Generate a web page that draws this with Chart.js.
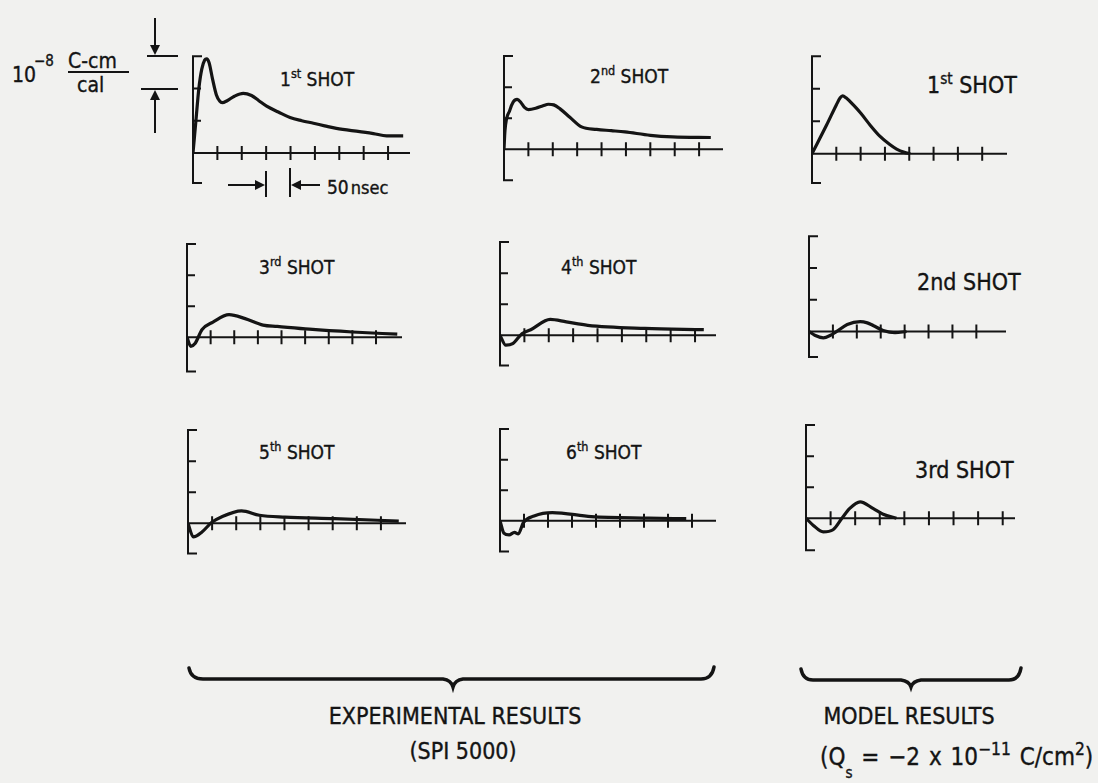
<!DOCTYPE html>
<html>
<head>
<meta charset="utf-8">
<script src="https://cdn.jsdelivr.net/npm/chart.js@4.4.0/dist/chart.umd.min.js"></script>
<style>
  body { margin: 0; width: 1098px; height: 783px; overflow: hidden; position: relative;
         background: #f1f1ef; color: #141414; font-family: "DejaVu Sans Condensed", "DejaVu Sans", sans-serif; }
  canvas.scope { position: absolute; }
  .lbl { position: absolute; white-space: nowrap; line-height: 1; -webkit-text-stroke: 0.35px #141414; }
  .exp { font-size: 19px; }
  .mod { font-size: 23px; }
  .foot { font-size: 23px; transform: translateX(-50%); }
  sup { font-size: 66%; vertical-align: baseline; position: relative; top: -0.6em; }
  svg { position: absolute; left: 0; top: 0; }
</style>
</head>
<body>

<svg width="1098" height="783">
  <g stroke="#141414" fill="none" stroke-width="2">
    <!-- unit marker -->
    <line x1="155" y1="18" x2="155" y2="48"/>
    <line x1="147" y1="56" x2="178" y2="56"/>
    <line x1="141" y1="89" x2="178" y2="89"/>
    <line x1="155" y1="98" x2="155" y2="133"/>
    <line x1="68" y1="72" x2="129" y2="72"/>
    <!-- 50 nsec marker -->
    <line x1="228" y1="185" x2="258" y2="185"/>
    <line x1="266" y1="171" x2="266" y2="197"/>
    <line x1="290" y1="168" x2="290" y2="197"/>
    <line x1="298" y1="185" x2="320" y2="185"/>
  </g>
  <g fill="#141414">
    <polygon points="150,45 160,45 155,55"/>
    <polygon points="150,100 160,100 155,90"/>
    <polygon points="255,180 255,190 265,185"/>
    <polygon points="301,180 301,190 291,185"/>
  </g>
  <!-- braces -->
  <g stroke="#141414" fill="none" stroke-width="3.5" stroke-linecap="round">
    <path d="M189,668 Q191,679 203,679 L443,679 Q451,680 453,687 Q455,680 463,679 L701,679 Q712,679 714,667"/>
    <path d="M801,669 Q803,680 813,680 L901,680 Q909,681 911,687 Q913,681 921,680 L1009,680 Q1019,680 1021,668"/>
  </g>
</svg>

<!-- unit label -->
<div class="lbl" style="left:12px;top:65px;font-size:21px">10</div>
<div class="lbl" style="left:34px;top:54px;font-size:15px">&minus;8</div>
<div class="lbl" style="left:68px;top:51px;font-size:21px">C-cm</div>
<div class="lbl" style="left:77px;top:75px;font-size:21px">cal</div>
<div class="lbl" style="left:327px;top:178px;font-size:19px">50<span style="font-size:18px;margin-left:2px">nsec</span></div>

<!-- shot labels -->
<div class="lbl exp" style="left:280px;top:70px">1<sup>st</sup> SHOT</div>
<div class="lbl exp" style="left:590px;top:67px">2<sup>nd</sup> SHOT</div>
<div class="lbl mod" style="left:927px;top:74px">1<sup>st</sup> SHOT</div>
<div class="lbl exp" style="left:259px;top:258px">3<sup>rd</sup> SHOT</div>
<div class="lbl exp" style="left:561px;top:258px">4<sup>th</sup> SHOT</div>
<div class="lbl mod" style="left:917px;top:271px">2nd SHOT</div>
<div class="lbl exp" style="left:259px;top:443px">5<sup>th</sup> SHOT</div>
<div class="lbl exp" style="left:566px;top:443px">6<sup>th</sup> SHOT</div>
<div class="lbl mod" style="left:915px;top:459px">3rd SHOT</div>

<!-- footer -->
<div class="lbl foot" style="left:455px;top:705px">EXPERIMENTAL RESULTS</div>
<div class="lbl foot" style="left:463px;top:740px">(SPI 5000)</div>
<div class="lbl foot" style="left:909px;top:705px">MODEL RESULTS</div>
<div class="lbl" style="left:820px;top:745px;font-size:24px;word-spacing:2px">(Q<span style="font-size:15px;position:relative;top:13px">s</span> = &minus;2 x 10<sup style="font-size:72%">&minus;11</sup> C/cm<sup style="font-size:72%">2</sup>)</div>

<script>
// time in nsec (one tick = 50 nsec), response in units of 1e-8 C-cm/cal
const expTicks = [50, 100, 150, 200, 250, 300, 350, 400];
const modelTicks = [50, 100, 150, 200, 250, 300, 350];
const yTicks = [1, 2];

const shot1Time = [0, 6, 12, 18, 24, 28, 33, 40, 48, 55, 60, 70, 85, 103, 120, 135, 151, 175, 199, 223, 247, 270, 294, 342, 370, 397, 431];
const shot1Resp = [0, 1.0, 2.0, 2.6, 2.88, 2.92, 2.8, 2.3, 1.8, 1.6, 1.56, 1.62, 1.76, 1.85, 1.78, 1.62, 1.45, 1.27, 1.1, 1.0, 0.92, 0.84, 0.76, 0.66, 0.6, 0.53, 0.53];

const shot2Time = [0, 2, 12, 19, 27, 35, 42, 50, 65, 80, 91, 102, 115, 135, 159, 190, 220, 248, 300, 346, 424];
const shot2Resp = [0, 0.6, 1.26, 1.53, 1.61, 1.5, 1.35, 1.28, 1.32, 1.4, 1.45, 1.43, 1.3, 1.03, 0.72, 0.64, 0.6, 0.56, 0.45, 0.4, 0.38];

const shot3Time = [0, 8, 17, 32, 55, 89, 123, 161, 191, 259, 350, 445];
const shot3Resp = [0, -0.29, -0.2, 0.25, 0.49, 0.73, 0.6, 0.39, 0.35, 0.26, 0.17, 0.1];

const shot4Time = [0, 12, 26, 45, 63, 103, 136, 180, 297, 418];
const shot4Resp = [0, -0.32, -0.27, 0.05, 0.18, 0.51, 0.43, 0.32, 0.22, 0.18];

const shot5Time = [0, 11, 29, 50, 66, 111, 148, 201, 304, 437];
const shot5Resp = [0, -0.44, -0.28, 0.04, 0.18, 0.4, 0.26, 0.2, 0.15, 0.07];

const shot6Time = [0, 8, 19, 30, 38, 49, 71, 109, 190, 310, 388];
const shot6Resp = [0, -0.4, -0.46, -0.38, -0.43, -0.05, 0.16, 0.27, 0.14, 0.09, 0.07];

const model1Time = [0, 30, 50, 58, 63, 70, 85, 100, 120, 140, 160, 174, 190, 202];
const model1Resp = [0, 0.88, 1.5, 1.72, 1.78, 1.72, 1.5, 1.25, 0.87, 0.53, 0.28, 0.14, 0.04, 0];

const model2Time = [0, 12, 30, 45, 58, 80, 107, 122, 134, 155, 180, 204];
const model2Resp = [0, -0.12, -0.2, -0.12, 0, 0.22, 0.31, 0.27, 0.19, 0.03, -0.04, 0];

const model3Time = [0, 15, 35, 55, 73, 89, 110, 137, 157, 184];
const model3Resp = [0, -0.23, -0.44, -0.37, 0, 0.32, 0.53, 0.31, 0.13, 0];

// where each scope trace sits on the page
const panels = [
  { t: shot1Time,  r: shot1Resp,  ticks: expTicks,   x0: 193, y0: 153, pxNs: 0.488, pxUnit: 32.3, xMax: 445, yBot: -0.93 },
  { t: shot2Time,  r: shot2Resp,  ticks: expTicks,   x0: 504, y0: 149, pxNs: 0.488, pxUnit: 31,   xMax: 449, yBot: -1.0 },
  { t: model1Time, r: model1Resp, ticks: modelTicks, x0: 812, y0: 154, pxNs: 0.486, pxUnit: 32.5, xMax: 401, yBot: -0.9 },
  { t: shot3Time,  r: shot3Resp,  ticks: expTicks,   x0: 187, y0: 337, pxNs: 0.472, pxUnit: 31,   xMax: 455, yBot: -1.1 },
  { t: shot4Time,  r: shot4Resp,  ticks: expTicks,   x0: 500, y0: 335, pxNs: 0.488, pxUnit: 31,   xMax: 443, yBot: -0.97 },
  { t: model2Time, r: model2Resp, ticks: modelTicks, x0: 809, y0: 331, pxNs: 0.478, pxUnit: 31.7, xMax: 412, yBot: -0.8 },
  { t: shot5Time,  r: shot5Resp,  ticks: expTicks,   x0: 188, y0: 523, pxNs: 0.482, pxUnit: 31,   xMax: 452, yBot: -0.97 },
  { t: shot6Time,  r: shot6Resp,  ticks: expTicks,   x0: 500, y0: 521, pxNs: 0.48,  pxUnit: 30.5, xMax: 450, yBot: -1.0 },
  { t: model3Time, r: model3Resp, ticks: expTicks,   x0: 806, y0: 518, pxNs: 0.492, pxUnit: 31,   xMax: 425, yBot: -1.03 }
];

const PAD = 12, Y_MIN = -1.15, Y_MAX = 3.1;

// bracket on the left, baseline with crosses at every 50 nsec
function scopeAxes(p) {
  return {
    id: 'scopeAxes',
    beforeDatasetsDraw(chart) {
      const { ctx, scales: { x, y } } = chart;
      const xa = x.getPixelForValue(0), xe = x.getPixelForValue(p.xMax);
      const yz = y.getPixelForValue(0), yt = y.getPixelForValue(3), yb = y.getPixelForValue(p.yBot);
      ctx.save();
      ctx.strokeStyle = '#141414';
      ctx.lineWidth = 2;
      ctx.beginPath();
      ctx.moveTo(xa + 9, yt); ctx.lineTo(xa, yt); ctx.lineTo(xa, yb); ctx.lineTo(xa + 9, yb);
      yTicks.forEach(v => {
        const yy = y.getPixelForValue(v);
        ctx.moveTo(xa, yy); ctx.lineTo(xa + 8, yy);
      });
      ctx.moveTo(xa, yz); ctx.lineTo(xe, yz);
      p.ticks.forEach(t => {
        const xx = x.getPixelForValue(t);
        ctx.moveTo(xx, yz - 7); ctx.lineTo(xx, yz + 7);
      });
      ctx.stroke();
      ctx.restore();
    }
  };
}

panels.forEach(p => {
  const cv = document.createElement('canvas');
  cv.className = 'scope';
  const w = Math.round(p.xMax * p.pxNs + 2 * PAD);
  const h = Math.round((Y_MAX - Y_MIN) * p.pxUnit + 2 * PAD);
  cv.width = w; cv.height = h;
  cv.style.left = (p.x0 - PAD) + 'px';
  cv.style.top = (p.y0 - Y_MAX * p.pxUnit - PAD) + 'px';
  document.body.appendChild(cv);

  new Chart(cv, {
    type: 'line',
    data: {
      datasets: [{
        data: p.t.map((x, i) => ({ x: x, y: p.r[i] })),
        borderColor: '#141414',
        borderWidth: 3.2,
        pointRadius: 0,
        cubicInterpolationMode: 'monotone',
        fill: false
      }]
    },
    options: {
      responsive: false,
      animation: false,
      events: [],
      layout: { padding: PAD },
      plugins: { legend: { display: false }, tooltip: { enabled: false } },
      scales: {
        x: { type: 'linear', min: 0, max: p.xMax, display: false },
        y: { min: Y_MIN, max: Y_MAX, display: false }
      }
    },
    plugins: [scopeAxes(p)]
  });
});
</script>
</body>
</html>
